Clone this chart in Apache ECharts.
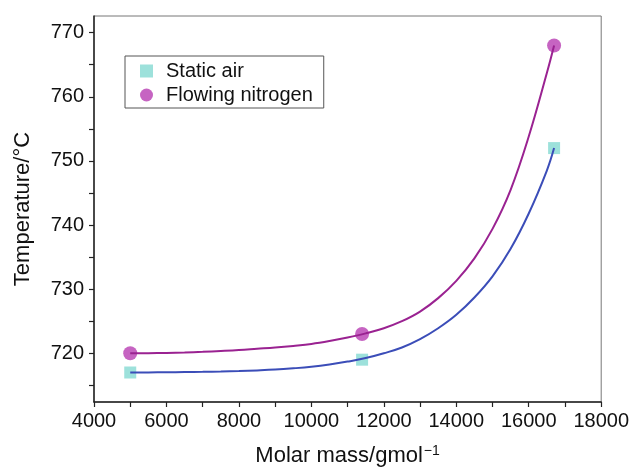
<!DOCTYPE html>
<html>
<head>
<meta charset="utf-8">
<script src="https://cdn.jsdelivr.net/npm/echarts@6/dist/echarts.min.js"></script>
<style>
  html, body { margin: 0; padding: 0; background: #fff; }
  #chart { width: 632px; height: 472px; }
</style>
</head>
<body>
<div id="chart"></div>
<script>
// measured points
var molarMass = [5000, 11400, 16700];
var staticAir = [717, 719, 752];
var flowingN2 = [720, 723, 768];

// fitted curves
var curveX = [5000, 5500, 6000, 6500, 7000, 7500, 8000, 8500, 9000, 9500, 10000, 10500, 11000, 11500, 12000, 12500, 13000, 13500, 14000, 14500, 15000, 15500, 16000, 16500, 16700];
var curveStatic = [717.0, 717.02, 717.04, 717.07, 717.1, 717.15, 717.22, 717.32, 717.45, 717.65, 717.9, 718.25, 718.7, 719.25, 720.0, 720.9, 722.2, 723.9, 726.0, 728.7, 732.0, 736.3, 741.8, 748.5, 752.0];
var curveN2 = [720.0, 720.02, 720.06, 720.12, 720.22, 720.35, 720.5, 720.7, 720.9, 721.15, 721.45, 721.9, 722.45, 723.1, 723.9, 725.0, 726.5, 728.6, 731.3, 734.8, 739.4, 745.5, 753.8, 763.7, 768.0];

// axis ticks
var xTicks = [4000, 5000, 6000, 7000, 8000, 9000, 10000, 11000, 12000, 13000, 14000, 15000, 16000, 17000, 18000];
var xLabels = [4000, 6000, 8000, 10000, 12000, 14000, 16000, 18000];
var yTicks = [715, 720, 725, 730, 735, 740, 745, 750, 755, 760, 765, 770];
var yLabels = [720, 730, 740, 750, 760, 770];

function pairs(xs, ys) {
    var res = [];
    for (var i = 0; i < xs.length; i++) {
        res.push([xs[i], ys[i]]);
    }
    return res;
}

var myChart = echarts.init(document.getElementById('chart'));
var font = 'Liberation Sans, Arial, sans-serif';

var option = {
    animation: false,
    backgroundColor: '#fff',
    grid: {
        left: 94, right: 30, top: 16, bottom: 67,
        show: true,
        borderColor: '#777',
        borderWidth: 1
    },
    legend: {
        orient: 'vertical',
        left: 125,
        top: 56,
        width: 200,
        data: [
            { name: 'Static air', icon: 'rect' },
            { name: 'Flowing nitrogen', icon: 'circle' }
        ],
        itemWidth: 13,
        itemHeight: 13,
        itemGap: 2,
        padding: [4, 11, 2, 15],
        borderColor: '#555',
        borderWidth: 1,
        textStyle: {
            fontFamily: font,
            fontSize: 20,
            lineHeight: 22,
            color: '#111',
            padding: [0, 0, 0, 8]
        }
    },
    xAxis: {
        type: 'value',
        min: 4000,
        max: 18000,
        name: 'Molar mass/gmol{sup|−1}',
        nameLocation: 'middle',
        nameGap: 42,
        nameTextStyle: {
            fontFamily: font,
            fontSize: 22,
            color: '#111',
            rich: {
                sup: { fontFamily: font, fontSize: 14, color: '#111', verticalAlign: 'top', padding: [0, 0, 10, 1] }
            }
        },
        axisLine: { lineStyle: { color: '#222', width: 1.5 } },
        axisTick: { inside: false, length: 5, customValues: xTicks, lineStyle: { color: '#222', width: 1.2 } },
        axisLabel: {
            customValues: xLabels,
            margin: 9,
            fontFamily: font,
            fontSize: 20,
            color: '#111',
            formatter: function (v) { return String(v); }
        },
        splitLine: { show: false }
    },
    yAxis: {
        type: 'value',
        min: 712.4,
        max: 772.6,
        name: 'Temperature/°C',
        nameLocation: 'middle',
        nameGap: 60,
        nameTextStyle: { fontFamily: font, fontSize: 22, color: '#111' },
        axisLine: { show: true, lineStyle: { color: '#222', width: 1.5 } },
        axisTick: { show: true, inside: false, length: 5, customValues: yTicks, lineStyle: { color: '#222', width: 1.2 } },
        axisLabel: { customValues: yLabels, margin: 10, fontFamily: font, fontSize: 20, color: '#111' },
        splitLine: { show: false }
    },
    series: [
        {
            name: 'Static air',
            type: 'scatter',
            symbol: 'rect',
            symbolSize: 12,
            itemStyle: { color: '#84d9d2' },
            data: pairs(molarMass, staticAir)
        },
        {
            name: 'Flowing nitrogen',
            type: 'scatter',
            symbol: 'circle',
            symbolSize: 14,
            itemStyle: { color: '#b83db3' },
            data: pairs(molarMass, flowingN2)
        },
        {
            name: 'fit static',
            type: 'line',
            smooth: 0.4,
            showSymbol: false,
            lineStyle: { color: '#3b4db8', width: 2 },
            data: pairs(curveX, curveStatic)
        },
        {
            name: 'fit nitrogen',
            type: 'line',
            smooth: 0.4,
            showSymbol: false,
            lineStyle: { color: '#9a2291', width: 2 },
            data: pairs(curveX, curveN2)
        }
    ]
};

myChart.setOption(option);
window.addEventListener('resize', function () {
    myChart.resize();
});
</script>
</body>
</html>
